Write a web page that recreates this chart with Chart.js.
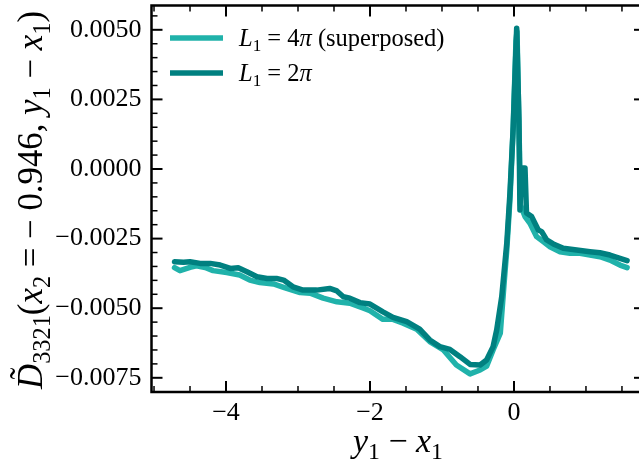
<!DOCTYPE html>
<html>
<head>
<meta charset="utf-8">
<script src="https://cdn.jsdelivr.net/npm/chart.js@4.4.0/dist/chart.umd.min.js"></script>
<style>
  html, body { margin: 0; padding: 0; background: #fff; overflow: hidden; }
  #wrap { width: 639px; height: 466px; overflow: hidden; }
</style>
</head>
<body>
<div id="wrap"><canvas id="corrChart" width="646" height="466"></canvas></div>
<script>
// values (y1 - x1, D~3321)
const xL4 = [-4.715, -4.64, -4.50, -4.41, -4.29, -4.18, -3.99, -3.81, -3.67, -3.53, -3.34, -3.20, -2.97, -2.83, -2.65, -2.46, -2.28, -2.09, -2.00, -1.82, -1.68, -1.54, -1.35, -1.17, -0.98, -0.80, -0.61, -0.47, -0.38, -0.29, -0.19, -0.14, -0.10, -0.056, -0.014, 0.028, 0.042, 0.076, 0.09, 0.153, 0.222, 0.315, 0.407, 0.50, 0.639, 0.778, 0.917, 1.056, 1.194, 1.333, 1.472, 1.571];
const yL4 = [-0.00354, -0.00365, -0.00353, -0.00348, -0.00354, -0.00365, -0.00372, -0.00381, -0.00399, -0.00408, -0.00413, -0.00425, -0.00444, -0.00446, -0.00464, -0.00477, -0.00482, -0.00500, -0.00509, -0.00540, -0.00540, -0.00554, -0.00576, -0.00620, -0.00650, -0.00704, -0.00736, -0.00722, -0.00708, -0.00650, -0.00590, -0.00420, -0.00290, -0.00110, 0.00130, 0.00460, 0.00495, 0.00068, -0.00129, -0.00171, -0.00195, -0.00243, -0.00261, -0.00279, -0.00297, -0.00303, -0.00303, -0.00309, -0.00315, -0.00327, -0.00345, -0.00354];

const xL2 = [-4.715, -4.59, -4.50, -4.36, -4.22, -4.08, -3.94, -3.83, -3.71, -3.57, -3.43, -3.30, -3.20, -3.07, -2.93, -2.74, -2.56, -2.46, -2.37, -2.28, -2.14, -2.00, -1.82, -1.68, -1.49, -1.31, -1.17, -1.03, -0.89, -0.75, -0.61, -0.47, -0.38, -0.29, -0.24, -0.17, -0.10, -0.056, -0.01, 0.0375, 0.069, 0.083, 0.104, 0.153, 0.174, 0.246, 0.338, 0.385, 0.454, 0.546, 0.685, 0.871, 1.056, 1.194, 1.333, 1.472, 1.571];
const yL2 = [-0.00333, -0.00335, -0.00333, -0.00339, -0.00339, -0.00345, -0.00357, -0.00355, -0.00369, -0.00387, -0.00393, -0.00393, -0.00399, -0.00423, -0.00435, -0.00435, -0.00429, -0.00438, -0.00459, -0.00464, -0.00480, -0.00485, -0.00513, -0.00533, -0.00548, -0.00575, -0.00614, -0.00638, -0.00648, -0.00674, -0.00702, -0.00704, -0.00686, -0.00638, -0.00578, -0.00459, -0.00267, -0.00087, 0.00152, 0.00506, 0.00176, -0.00147, 0.00004, 0.00004, -0.00158, -0.00171, -0.00219, -0.00225, -0.00255, -0.00269, -0.00285, -0.00291, -0.00297, -0.00301, -0.00309, -0.00321, -0.00329];

const xTickValues = [-4, -2, 0];
const yTickValues = [-0.0075, -0.005, -0.0025, 0, 0.0025, 0.005];
const seriesNames = ['L1 = 4π (superposed)', 'L1 = 2π'];
const seriesColors = ['#20b2aa', '#008080'];

// math-ish labels as runs of text (italic / subscript)
const legendRuns = [
    [{ t: 'L', it: 1 }, { t: '1', sub: 1 }, { t: ' = 4' }, { t: 'π', it: 1 }, { t: ' (superposed)' }],
    [{ t: 'L', it: 1 }, { t: '1', sub: 1 }, { t: ' = 2' }, { t: 'π', it: 1 }]
];
const xTitleRuns = [{ t: 'y', it: 1 }, { t: '1', sub: 1 }, { t: ' − ' }, { t: 'x', it: 1 }, { t: '1', sub: 1 }];
const yTitleRuns = [
    { t: 'D', it: 1, tilde: 1 }, { t: '3321', sub: 1 }, { t: '(' }, { t: 'x', it: 1 }, { t: '2', sub: 1 },
    { t: ' = − 0.946, ' }, { t: 'y', it: 1 }, { t: '1', sub: 1 }, { t: ' − ' }, { t: 'x', it: 1 }, { t: '1', sub: 1 }, { t: ')' }
];

const FONT = '"Liberation Serif"';

function runFont(r, size) {
    const s = r.sub ? size * 0.7 : size;
    return (r.it ? 'italic ' : '') + s + 'px ' + FONT;
}

function runsWidth(ctx, runs, size) {
    let w = 0;
    runs.forEach(r => { ctx.font = runFont(r, size); w += ctx.measureText(r.t).width; });
    return w;
}

function drawRuns(ctx, runs, x, y, size) {
    ctx.textAlign = 'left';
    ctx.textBaseline = 'alphabetic';
    runs.forEach(r => {
        ctx.font = runFont(r, size);
        const w = ctx.measureText(r.t).width;
        ctx.fillText(r.t, x, r.sub ? y + size * 0.22 : y);
        if (r.tilde) {
            ctx.font = size + 'px ' + FONT;
            ctx.textAlign = 'center';
            ctx.fillText('˜', x + w * 0.62, y - size * 0.2);
            ctx.textAlign = 'left';
        }
        x += w;
    });
}

const framePlugin = {
    id: 'frame',
    afterDatasetsDraw(chart) {
        const { ctx, chartArea: a, scales } = chart;
        const seg = (x1, y1, x2, y2) => { ctx.beginPath(); ctx.moveTo(x1, y1); ctx.lineTo(x2, y2); ctx.stroke(); };
        ctx.save();
        ctx.strokeStyle = '#000';
        for (let i = -10; i <= 4; i++) {
            const p = scales.x.getPixelForValue(i * 0.5);
            if (p < a.left || p > a.right) continue;
            const major = i % 4 === 0;
            const len = major ? 11 : 6;
            ctx.lineWidth = major ? 2 : 1.5;
            seg(p, a.bottom, p, a.bottom - len);
            seg(p, a.top, p, a.top + len);
        }
        for (let i = -16; i <= 11; i++) {
            const p = scales.y.getPixelForValue(i * 0.0005);
            if (p < a.top || p > a.bottom) continue;
            const major = i % 5 === 0;
            const len = major ? 11 : 6;
            ctx.lineWidth = major ? 2 : 1.5;
            seg(a.left, p, a.left + len, p);
            seg(a.right, p, a.right - len, p);
        }
        ctx.lineWidth = 2.5;
        ctx.strokeRect(a.left, a.top, a.right - a.left, a.bottom - a.top);
        ctx.restore();
    }
};

const labelPlugin = {
    id: 'mathLabels',
    afterDraw(chart) {
        const ctx = chart.ctx;
        ctx.save();
        ctx.fillStyle = '#000';

        // x title
        let size = 30 * 90 / runsWidth(ctx, xTitleRuns, 30);
        let w = runsWidth(ctx, xTitleRuns, size);
        drawRuns(ctx, xTitleRuns, 398 - w / 2, 452, size);

        // y title, rotated
        size = 30 * 378 / runsWidth(ctx, yTitleRuns, 30);
        w = runsWidth(ctx, yTitleRuns, size);
        ctx.save();
        ctx.translate(42, 200);
        ctx.rotate(-Math.PI / 2);
        drawRuns(ctx, yTitleRuns, -w / 2, 0, size);
        ctx.restore();

        // legend
        chart.data.datasets.forEach((ds, i) => {
            const yl = 38 + i * 35;
            ctx.strokeStyle = ds.borderColor;
            ctx.lineWidth = 5.5;
            ctx.lineCap = 'butt';
            ctx.beginPath();
            ctx.moveTo(170, yl);
            ctx.lineTo(223, yl);
            ctx.stroke();
            ctx.fillStyle = '#000';
            drawRuns(ctx, legendRuns[i], 239, yl + 7.5, 24.5);
        });
        ctx.restore();
    }
};

const ctx = document.getElementById('corrChart').getContext('2d');

new Chart(ctx, {
    type: 'line',
    data: {
        datasets: [{
            label: seriesNames[0],
            data: xL4.map((x, i) => ({ x: x, y: yL4[i] })),
            borderColor: seriesColors[0],
            borderWidth: 5.5,
            pointRadius: 0,
            tension: 0,
            borderCapStyle: 'round',
            borderJoinStyle: 'round',
            order: 2
        }, {
            label: seriesNames[1],
            data: xL2.map((x, i) => ({ x: x, y: yL2[i] })),
            borderColor: seriesColors[1],
            borderWidth: 5.5,
            pointRadius: 0,
            tension: 0,
            borderCapStyle: 'round',
            borderJoinStyle: 'round',
            order: 1
        }]
    },
    options: {
        responsive: false,
        animation: false,
        devicePixelRatio: 1,
        layout: {
            autoPadding: false,
            padding: { left: 0, right: 1, top: 5.5, bottom: 0 }
        },
        plugins: {
            legend: { display: false },
            tooltip: { enabled: false }
        },
        scales: {
            x: {
                type: 'linear',
                min: -5.035,
                max: 1.82,
                grid: { display: false, drawTicks: false },
                border: { display: false },
                afterBuildTicks: s => { s.ticks = xTickValues.map(v => ({ value: v })); },
                afterFit: s => { s.height = 74; s.paddingLeft = 0; s.paddingRight = 0; },
                ticks: {
                    color: '#000',
                    padding: 6,
                    maxRotation: 0,
                    autoSkip: false,
                    font: { family: 'Liberation Serif', size: 26 },
                    callback: v => (v < 0 ? '−' : '') + Math.abs(v)
                }
            },
            y: {
                min: -0.00801,
                max: 0.005873,
                grid: { display: false, drawTicks: false },
                border: { display: false },
                afterBuildTicks: s => { s.ticks = yTickValues.map(v => ({ value: v })); },
                afterFit: s => { s.width = 151.5; s.paddingTop = 0; s.paddingBottom = 0; },
                ticks: {
                    color: '#000',
                    padding: 10,
                    autoSkip: false,
                    font: { family: 'Liberation Serif', size: 26 },
                    callback: v => (v < 0 ? '−' : '') + Math.abs(v).toFixed(4)
                }
            }
        }
    },
    plugins: [framePlugin, labelPlugin]
});
</script>
</body>
</html>
